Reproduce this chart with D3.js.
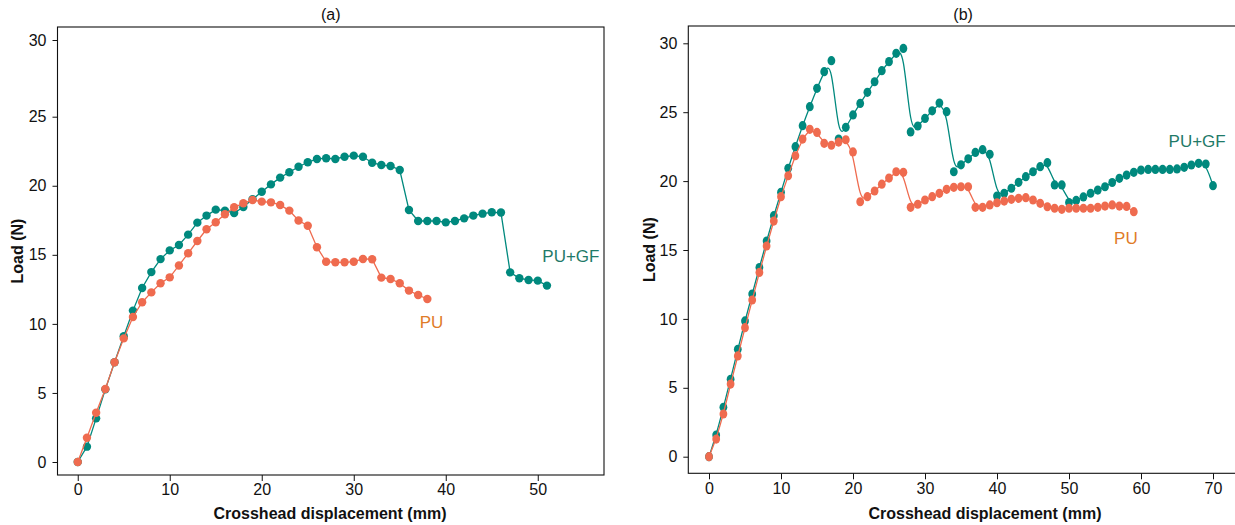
<!DOCTYPE html>
<html>
<head>
<meta charset="utf-8">
<script src="https://cdn.jsdelivr.net/npm/d3@7"></script>
<style>
  body { margin: 0; background: #fff; }
  svg { display: block; font-family: "Liberation Sans", Arial, Helvetica, sans-serif; }
</style>
</head>
<body>
<svg id="chart" width="1235" height="525"></svg>
<script>
// Load–displacement curves, sampled every 1 mm of crosshead travel.
const panelTitles = ["(a)", "(b)"];
const xTitle = "Crosshead displacement (mm)";
const yTitle = "Load (N)";
const seriesNames = ["PU", "PU+GF"];

const xTicksA = [0, 10, 20, 30, 40, 50];
const xTicksB = [0, 10, 20, 30, 40, 50, 60, 70];
const yTicks = [0, 5, 10, 15, 20, 25, 30];

// Panel (a)
const loadA_PU = [0, 1.76, 3.57, 5.29, 7.22, 8.95, 10.5, 11.57, 12.28, 12.94,
  13.37, 14.23, 15.11, 16.0, 16.85, 17.36, 17.94, 18.44, 18.73, 18.97,
  18.85, 18.8, 18.61, 18.2, 17.48, 17.11, 15.55, 14.5, 14.46, 14.46,
  14.5, 14.7, 14.68, 13.35, 13.25, 12.94, 12.41, 12.09, 11.8];
const loadA_GF = [0, 1.11, 3.16, 5.26, 7.22, 9.1, 10.96, 12.6, 13.75, 14.69,
  15.32, 15.71, 16.46, 17.33, 17.84, 18.27, 18.2, 18.03, 18.46, 19.02,
  19.57, 20.1, 20.59, 20.98, 21.38, 21.7, 21.94, 21.99, 21.94, 22.1,
  22.18, 22.1, 21.67, 21.5, 21.43, 21.14, 18.25, 17.45, 17.45, 17.45,
  17.35, 17.45, 17.64, 17.84, 17.98, 18.08, 18.06, 13.73, 13.3, 13.18,
  13.13, 12.77];

// Panel (b)
const loadB_PU = [0, 1.28, 3.1, 5.27, 7.31, 9.36, 11.37, 13.37, 15.29, 17.1,
  18.87, 20.39, 21.84, 23.05, 23.76, 23.53, 22.74, 22.6, 22.83, 23.0,
  22.12, 18.5, 18.87, 19.28, 19.78, 20.22, 20.68, 20.64, 18.1, 18.32,
  18.63, 18.87, 19.11, 19.4, 19.55, 19.59, 19.59, 18.1, 18.1, 18.27,
  18.43, 18.55, 18.68, 18.75, 18.8, 18.63, 18.39, 18.14, 18.03, 17.95,
  18.03, 18.03, 18.03, 18.03, 18.1, 18.19, 18.27, 18.19, 18.16, 17.78];
const loadB_GF = [0, 1.57, 3.58, 5.62, 7.79, 9.85, 11.8, 13.73, 15.65, 17.49,
  19.19, 20.93, 22.5, 24.02, 25.4, 26.73, 27.94, 28.74, 23.05, 23.9,
  24.8, 25.64, 26.44, 27.21, 28.01, 28.67, 29.27, 29.63, 23.57, 24.0,
  24.55, 25.1, 25.66, 25.04, 20.68, 21.18, 21.62, 22.08, 22.28, 21.94,
  18.92, 19.11, 19.48, 19.91, 20.32, 20.68, 21.05, 21.34, 19.72, 19.72,
  18.44, 18.6, 18.85, 19.12, 19.35, 19.59, 19.9, 20.2, 20.44, 20.64,
  20.8, 20.85, 20.85, 20.85, 20.85, 20.88, 21.0, 21.17, 21.29, 21.24,
  19.67];

const colors = { PU: "#ef6b4f", GF: "#00897e" };
const labelColors = { PU: "#e07b28", GF: "#1f7a68" };

const svg = d3.select("#chart");

function drawPanel(cfg) {
  const g = svg.append("g");
  const { x, y, box } = cfg;

  // Frame
  g.append("rect")
    .attr("x", box.left).attr("y", box.top)
    .attr("width", box.right - box.left).attr("height", box.bottom - box.top)
    .attr("fill", "none").attr("stroke", "#111").attr("stroke-width", 1.1);

  // Axes
  const xAxis = d3.axisBottom(x).tickValues(cfg.xTicks).tickSize(6).tickPadding(3);
  const gx = g.append("g").attr("transform", `translate(0,${box.bottom})`).call(xAxis);
  gx.select(".domain").remove();
  const yAxis = d3.axisLeft(y).tickValues(yTicks).tickSize(5).tickPadding(6);
  const gy = g.append("g").attr("transform", `translate(${box.left},0)`).call(yAxis);
  gy.select(".domain").remove();
  g.selectAll(".tick line").attr("stroke", "#111");
  g.selectAll(".tick text").attr("fill", "#111").style("font-size", "16px")
    .style("font-family", "'Liberation Sans', Arial, sans-serif");

  // Titles
  g.append("text").attr("x", (box.left + box.right) / 2 + cfg.titleShift).attr("y", 20)
    .attr("text-anchor", "middle").style("font-size", "16px").attr("fill", "#111")
    .text(cfg.title);
  g.append("text").attr("x", cfg.xTitleX).attr("y", 519)
    .attr("text-anchor", "middle").style("font-size", "16px").style("font-weight", "bold")
    .attr("fill", "#111").text(xTitle);
  g.append("text")
    .attr("transform", `translate(${cfg.yTitleX},${(box.top + box.bottom) / 2}) rotate(-90)`)
    .attr("text-anchor", "middle").style("font-size", "16px").style("font-weight", "bold")
    .attr("fill", "#111").text(yTitle);

  // Series
  const line = d3.line().x(d => x(d[0])).y(d => y(d[1])).curve(cfg.curve);
  cfg.series.forEach(s => {
    const pts = s.values.map((v, i) => [i, v]);
    g.append("path").datum(pts)
      .attr("d", line).attr("fill", "none")
      .attr("stroke", s.color).attr("stroke-width", 1.3);
    g.append("g").selectAll("ellipse").data(pts).join("ellipse")
      .attr("cx", d => x(d[0])).attr("cy", d => y(d[1]))
      .attr("rx", cfg.rx).attr("ry", cfg.ry)
      .attr("fill", s.color);
    g.append("text")
      .attr("x", x(s.label[0])).attr("y", y(s.label[1]))
      .attr("text-anchor", "middle").attr("dominant-baseline", "central")
      .style("font-size", "17px").attr("fill", s.labelColor)
      .text(s.name);
  });
}

// Panel (a)
const boxA = { left: 57.5, right: 604, top: 27, bottom: 475 };
drawPanel({
  title: panelTitles[0],
  titleShift: 0,
  box: boxA,
  x: d3.scaleLinear().domain([-2.2, 57.2]).range([boxA.left, boxA.right]),
  y: d3.scaleLinear().domain([0, 25, 30]).range([462, 116.7, 40]),
  xTicks: xTicksA,
  xTitleX: 330,
  yTitleX: 23,
  curve: d3.curveLinear,
  rx: 4.2, ry: 4.2,
  series: [
    { name: seriesNames[1], values: loadA_GF, color: colors.GF, labelColor: labelColors.GF, label: [53.6, 14.9] },
    { name: seriesNames[0], values: loadA_PU, color: colors.PU, labelColor: labelColors.PU, label: [38.46, 10.07] }
  ]
});

// Panel (b)
const boxB = { left: 688.3, right: 1250, top: 26, bottom: 473.3 };
drawPanel({
  title: panelTitles[1],
  titleShift: -6,
  box: boxB,
  x: d3.scaleLinear().domain([0, 70]).range([709, 1213]),
  y: d3.scaleLinear().domain([0, 30]).range([456.7, 43.3]),
  xTicks: xTicksB,
  xTitleX: 985,
  yTitleX: 655,
  curve: d3.curveBasis,
  rx: 3.9, ry: 4.6,
  series: [
    { name: seriesNames[1], values: loadB_GF, color: colors.GF, labelColor: labelColors.GF, label: [67.8, 22.86] },
    { name: seriesNames[0], values: loadB_PU, color: colors.PU, labelColor: labelColors.PU, label: [57.9, 15.8] }
  ]
});
</script>
</body>
</html>
